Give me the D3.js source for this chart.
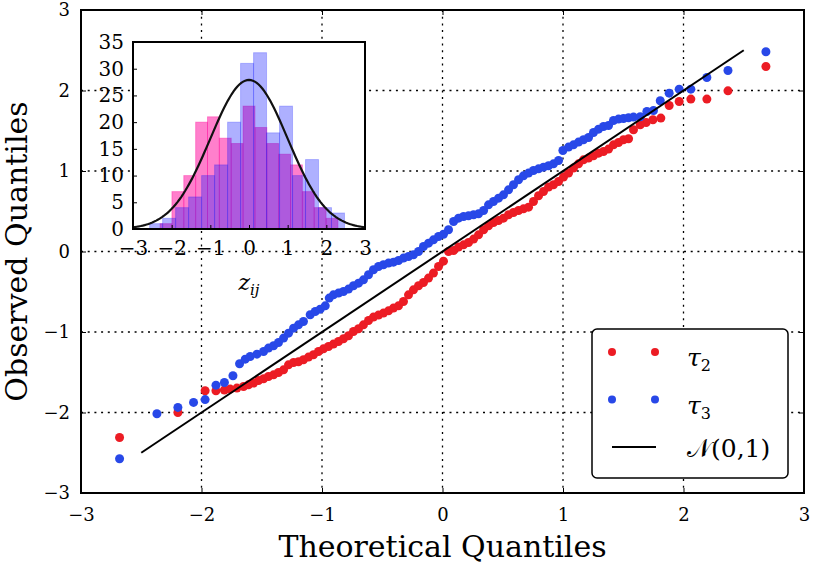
<!DOCTYPE html>
<html>
<head>
<meta charset="utf-8">
<script src="https://cdn.jsdelivr.net/npm/d3@7"></script>
<style>
  body { margin: 0; background: #fff; }
  text { font-family: "DejaVu Serif", serif; fill: #000; }
</style>
</head>
<body>
<div id="chart"></div>
<script>
// tick values
const mainTicks = [-3, -2, -1, 0, 1, 2, 3];
const gridVals = [-2, -1, 0, 1, 2];
const insetXTicks = [-3, -2, -1, 0, 1, 2, 3];
const insetYTicks = [0, 5, 10, 15, 20, 25, 30, 35];

// QQ points [theoretical, observed]
const tau2Points = [
  [-2.68,-2.31],[-2.196,-2.0],[-1.97,-1.73],[-1.88,-1.73],[-1.81,-1.72],
  [-1.762,-1.709],[-1.706,-1.697],[-1.651,-1.677],[-1.610,-1.656],[-1.568,-1.635],
  [-1.527,-1.602],[-1.485,-1.581],[-1.444,-1.553],[-1.402,-1.532],[-1.361,-1.503],
  [-1.319,-1.470],[-1.278,-1.408],[-1.236,-1.379],[-1.195,-1.370],[-1.154,-1.345],
  [-1.112,-1.312],[-1.071,-1.283],[-1.029,-1.242],[-0.988,-1.209],[-0.946,-1.180],
  [-0.905,-1.150],[-0.863,-1.118],[-0.822,-1.084],[-0.780,-1.047],[-0.739,-0.994],
  [-0.697,-0.960],[-0.656,-0.911],[-0.614,-0.857],[-0.573,-0.815],[-0.531,-0.790],
  [-0.490,-0.765],[-0.448,-0.737],[-0.407,-0.703],[-0.365,-0.675],[-0.324,-0.621],
  [-0.282,-0.538],[-0.241,-0.476],[-0.199,-0.426],[-0.158,-0.385],[-0.116,-0.330],
  [-0.075,-0.268],[-0.033,-0.186],[0.008,-0.12],[0.050,0.0],[0.092,0.012],
  [0.133,0.055],[0.175,0.083],[0.216,0.112],[0.258,0.154],[0.299,0.207],
  [0.341,0.270],[0.382,0.319],[0.423,0.360],[0.465,0.385],[0.506,0.414],
  [0.548,0.456],[0.589,0.484],[0.631,0.509],[0.672,0.530],[0.714,0.551],
  [0.755,0.621],[0.797,0.692],[0.838,0.745],[0.880,0.800],[0.921,0.829],
  [0.963,0.870],[1.004,0.924],[1.046,0.974],[1.087,1.036],[1.129,1.089],
  [1.170,1.139],[1.212,1.160],[1.253,1.189],[1.295,1.222],[1.336,1.242],
  [1.378,1.272],[1.419,1.325],[1.461,1.354],[1.502,1.388],[1.544,1.400],
  [1.585,1.512],[1.641,1.574],[1.690,1.603],[1.746,1.636],[1.812,1.657],
  [1.881,1.814],[1.964,1.863],[2.061,1.893],[2.194,1.893],[2.369,1.996],
  [2.684,2.298]
];
const tau3Points = [
  [-2.68,-2.575],[-2.37,-2.016],[-2.196,-1.937],[-2.066,-1.875],[-1.97,-1.84],
  [-1.88,-1.66],[-1.81,-1.627],[-1.739,-1.544],[-1.684,-1.395],[-1.637,-1.337],
  [-1.596,-1.304],[-1.540,-1.275],[-1.485,-1.242],[-1.444,-1.200],[-1.402,-1.171],
  [-1.361,-1.130],[-1.319,-1.076],[-1.278,-1.014],[-1.236,-0.952],[-1.195,-0.911],
  [-1.154,-0.869],[-1.098,-0.786],[-1.056,-0.745],[-1.015,-0.716],[-0.973,-0.675],
  [-0.940,-0.579],[-0.905,-0.538],[-0.863,-0.517],[-0.822,-0.497],[-0.780,-0.467],
  [-0.739,-0.426],[-0.697,-0.393],[-0.656,-0.352],[-0.614,-0.289],[-0.573,-0.227],
  [-0.531,-0.186],[-0.490,-0.165],[-0.448,-0.144],[-0.407,-0.132],[-0.365,-0.112],
  [-0.324,-0.082],[-0.282,-0.062],[-0.241,-0.041],[-0.199,0],[-0.158,0.062],
  [-0.116,0.104],[-0.075,0.145],[-0.033,0.186],[0.008,0.214],[0.050,0.27],
  [0.092,0.373],[0.133,0.414],[0.175,0.435],[0.216,0.443],[0.258,0.456],
  [0.299,0.468],[0.341,0.509],[0.382,0.580],[0.423,0.621],[0.465,0.663],
  [0.506,0.704],[0.548,0.766],[0.589,0.829],[0.631,0.891],[0.672,0.940],
  [0.714,0.974],[0.755,1.006],[0.797,1.027],[0.838,1.048],[0.880,1.065],
  [0.921,1.089],[0.963,1.130],[0.999,1.255],[1.046,1.297],[1.087,1.325],
  [1.129,1.359],[1.170,1.388],[1.212,1.416],[1.253,1.478],[1.295,1.520],
  [1.336,1.553],[1.378,1.565],[1.419,1.627],[1.461,1.645],[1.502,1.652],
  [1.544,1.661],[1.585,1.670],[1.641,1.674],[1.696,1.739],[1.751,1.752],
  [1.807,1.872],[1.881,1.967],[1.964,2.017],[2.061,2.017],[2.194,2.161],
  [2.369,2.249],[2.684,2.481]
];
// reference line N(0,1) end points
const refLine = [[-2.5, -2.5], [2.5, 2.5]];

// inset histogram: 15 bins over each sample's range
const histRedRange = [-2.3, 2.3];
const histRedCounts = [1, 7, 10, 20, 21, 17, 16, 23, 19, 16, 14, 12, 7, 4, 2];
const histBlueRange = [-2.57, 2.47];
const histBlueCounts = [1, 2, 4, 6, 10, 12, 20, 31, 33, 18, 23, 10, 13, 4, 3];
const curvePeak = 27.9;

const red = "#ec1c24";
const blue = "#2848e8";

//dimensions
const W = 813, H = 566;
const margin = { top: 10, right: 9, bottom: 73, left: 81 };
const width = W - margin.left - margin.right;
const height = H - margin.top - margin.bottom;

const x = d3.scaleLinear().domain([-3, 3]).range([0, width]);
const y = d3.scaleLinear().domain([-3, 3]).range([height, 0]);

const root = d3.select("#chart").append("svg")
  .attr("width", W).attr("height", H);
const svg = root.append("g")
  .attr("transform", `translate(${margin.left},${margin.top})`);

// grid
const dash = "2,4.7";
svg.append("g").selectAll("line").data(gridVals).join("line")
  .attr("x1", d => x(d)).attr("x2", d => x(d))
  .attr("y1", 0).attr("y2", height)
  .attr("stroke", "#000").attr("stroke-width", 1.3).attr("stroke-dasharray", dash);
svg.append("g").selectAll("line").data(gridVals).join("line")
  .attr("y1", d => y(d)).attr("y2", d => y(d))
  .attr("x1", 0).attr("x2", width)
  .attr("stroke", "#000").attr("stroke-width", 1.3).attr("stroke-dasharray", dash);

// axes
const fmt = d3.format("d");
function styleAxis(g, size) {
  g.select(".domain").remove();
  g.selectAll(".tick line").attr("stroke", "#000").attr("stroke-width", 1);
  g.selectAll("text").style("font-size", size + "px").style("font-family", "DejaVu Serif");
}
svg.append("g").attr("transform", `translate(0,${height})`)
  .call(d3.axisBottom(x).tickValues(mainTicks).tickFormat(fmt).tickSizeInner(-5).tickSizeOuter(0).tickPadding(15))
  .call(g => styleAxis(g, 18));
svg.append("g")
  .call(d3.axisLeft(y).tickValues(mainTicks).tickFormat(fmt).tickSizeInner(-5).tickSizeOuter(0).tickPadding(11))
  .call(g => styleAxis(g, 18));
svg.append("g")
  .call(d3.axisTop(x).tickValues(mainTicks).tickFormat("").tickSizeInner(-5).tickSizeOuter(0))
  .call(g => styleAxis(g, 18));
svg.append("g").attr("transform", `translate(${width},0)`)
  .call(d3.axisRight(y).tickValues(mainTicks).tickFormat("").tickSizeInner(-5).tickSizeOuter(0))
  .call(g => styleAxis(g, 18));

// points
svg.append("g").selectAll("circle").data(tau2Points).join("circle")
  .attr("cx", d => x(d[0])).attr("cy", d => y(d[1])).attr("r", 4.5).attr("fill", red);
svg.append("g").selectAll("circle").data(tau3Points).join("circle")
  .attr("cx", d => x(d[0])).attr("cy", d => y(d[1])).attr("r", 4.5).attr("fill", blue);

// reference line
svg.append("path").datum(refLine)
  .attr("fill", "none").attr("stroke", "#000").attr("stroke-width", 2)
  .attr("d", d3.line().x(d => x(d[0])).y(d => y(d[1])));

// frame
svg.append("rect").attr("width", width).attr("height", height)
  .attr("fill", "none").attr("stroke", "#000").attr("stroke-width", 2);

// axis labels
svg.append("text")
  .attr("x", width / 2).attr("y", 547)
  .attr("text-anchor", "middle").style("font-size", "30px")
  .text("Theoretical Quantiles");
svg.append("text")
  .attr("transform", `translate(${27 - margin.left},${height / 2}) rotate(-90)`)
  .attr("text-anchor", "middle").style("font-size", "30px")
  .text("Observed Quantiles");

// legend
const lg = root.append("g");
lg.append("rect").attr("x", 592).attr("y", 329).attr("width", 196).attr("height", 149)
  .attr("rx", 5).attr("fill", "#fff").attr("stroke", "#000").attr("stroke-width", 1.5);
const legendRows = [
  { y: 352, color: red, name: "τ", sub: "2" },
  { y: 399.5, color: blue, name: "τ", sub: "3" }
];
legendRows.forEach(r => {
  lg.selectAll(null).data([612, 655]).join("circle")
    .attr("cx", d => d).attr("cy", r.y).attr("r", 4).attr("fill", r.color);
  const t = lg.append("text").attr("x", 687).attr("y", r.y + 14).style("font-size", "25px");
  t.append("tspan").style("font-style", "italic").text(r.name);
  t.append("tspan").attr("dy", 5).style("font-size", "16px").text(r.sub);
});
lg.append("line").attr("x1", 612).attr("x2", 656).attr("y1", 447).attr("y2", 447)
  .attr("stroke", "#000").attr("stroke-width", 2);
const nt = lg.append("text").attr("x", 687).attr("y", 457).style("font-size", "25px");
nt.append("tspan").text("𝒩");
nt.append("tspan").text("(0,1)");

// inset
const inset = { left: 133, top: 42, width: 232, height: 187 };
const ix = d3.scaleLinear().domain([-3, 3]).range([0, inset.width]);
const iy = d3.scaleLinear().domain([0, 35]).range([inset.height, 0]);
const ig = root.append("g").attr("transform", `translate(${inset.left},${inset.top})`);
ig.append("rect").attr("width", inset.width).attr("height", inset.height).attr("fill", "#fff");

function drawHist(range, counts, color, alpha) {
  const bw = (range[1] - range[0]) / counts.length;
  ig.append("g").selectAll("rect").data(counts).join("rect")
    .attr("x", (d, i) => ix(range[0] + i * bw))
    .attr("width", (d, i) => ix(range[0] + (i + 1) * bw) - ix(range[0] + i * bw))
    .attr("y", d => iy(d))
    .attr("height", d => iy(0) - iy(d))
    .attr("fill", color).attr("fill-opacity", alpha)
    .attr("stroke", color).attr("stroke-opacity", alpha * 0.7).attr("stroke-width", 1);
}
drawHist(histRedRange, histRedCounts, "#ff0099", 0.5);
drawHist(histBlueRange, histBlueCounts, "#0a10ff", 0.33);

const curve = d3.range(-3, 3.001, 0.05).map(v => [v, curvePeak * Math.exp(-v * v / 2)]);
ig.append("path").datum(curve)
  .attr("fill", "none").attr("stroke", "#111").attr("stroke-width", 2.2)
  .attr("d", d3.line().x(d => ix(d[0])).y(d => iy(d[1])));

ig.append("g").attr("transform", `translate(0,${inset.height})`)
  .call(d3.axisBottom(ix).tickValues(insetXTicks).tickFormat(fmt).tickSizeInner(-4).tickSizeOuter(0).tickPadding(12))
  .call(g => styleAxis(g, 20));
ig.append("g")
  .call(d3.axisLeft(iy).tickValues(insetYTicks).tickFormat(fmt).tickSizeInner(-4).tickSizeOuter(0).tickPadding(9))
  .call(g => styleAxis(g, 20));
ig.append("rect").attr("width", inset.width).attr("height", inset.height)
  .attr("fill", "none").attr("stroke", "#000").attr("stroke-width", 2);

const zt = ig.append("text").attr("x", ix(0)).attr("y", 248)
  .attr("text-anchor", "middle").style("font-size", "22px");
zt.append("tspan").style("font-style", "italic").text("z");
zt.append("tspan").attr("dy", 5).style("font-size", "15px").style("font-style", "italic").text("ij");
</script>
</body>
</html>
